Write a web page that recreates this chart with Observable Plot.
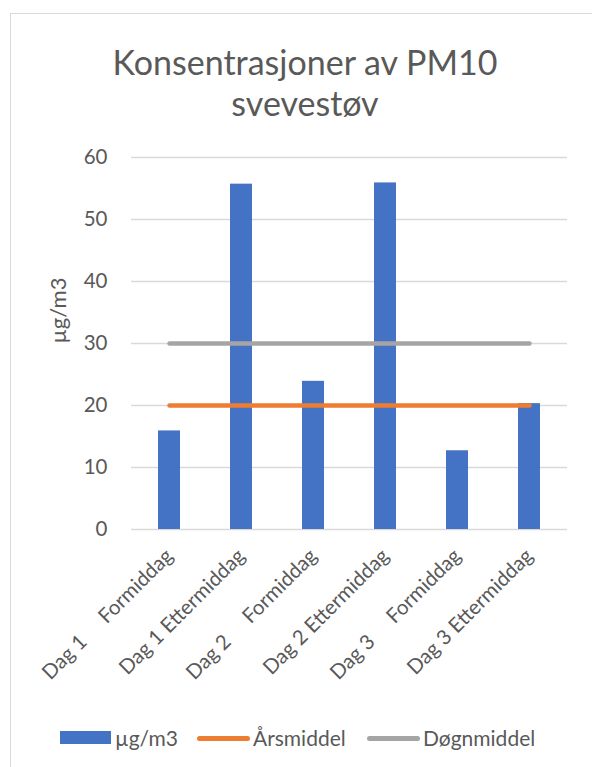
<!DOCTYPE html>
<html><head><meta charset="utf-8">
<script src="https://cdn.jsdelivr.net/npm/d3@7"></script>
<script src="https://cdn.jsdelivr.net/npm/@observablehq/plot@0.6"></script>
<style>
body{margin:0;background:#fff;font-family:Lato,sans-serif;color:#595959}
#wrap{position:relative;width:592px;height:767px;overflow:hidden;background:#fff}
#frame{position:absolute;left:10px;top:13px;width:600px;height:800px;border:1px solid #d9d9d9;box-sizing:border-box}
#title{position:absolute;left:0;width:610px;top:41px;text-align:center;font-size:34px;line-height:41px}
#chart{position:absolute;left:0;top:130px}
.lg{position:absolute;font-size:21px;line-height:21px;top:727px;white-space:nowrap}
.sw{position:absolute}
</style></head>
<body>
<div id="wrap">
<div id="frame"></div>
<div id="title">Konsentrasjoner av PM10<br>svevestøv</div>
<div id="chart"></div>
<div class="sw" style="left:60px;top:731px;width:51px;height:13px;background:#4472C4"></div>
<div class="lg" style="left:115px">µg/m3</div>
<div class="sw" style="left:197px;top:736px;width:53px;height:4.5px;border-radius:3px;background:#ED7D31"></div>
<div class="lg" style="left:253px">Årsmiddel</div>
<div class="sw" style="left:367px;top:736px;width:53px;height:4.5px;border-radius:3px;background:#A5A5A5"></div>
<div class="lg" style="left:423px">Døgnmiddel</div>
</div>
<script>
const S = "\u00A0\u00A0\u00A0\u00A0\u00A0";
const categories = ["Dag 1" + S + "Formiddag", "Dag 1 Ettermiddag", "Dag 2" + S + "Formiddag", "Dag 2 Ettermiddag", "Dag 3" + S + "Formiddag", "Dag 3 Ettermiddag"];
const pm10 = [15.9, 55.7, 23.9, 55.9, 12.7, 20.3];
const aarsmiddel = [20, 20, 20, 20, 20, 20];
const dognmiddel = [30, 30, 30, 30, 30, 30];
const yTicks = [0, 10, 20, 30, 40, 50, 60];

const bars = categories.map((c, i) => ({c, v: pm10[i]}));
const aars = categories.map((c, i) => ({c, v: aarsmiddel[i]}));
const dogn = categories.map((c, i) => ({c, v: dognmiddel[i]}));

const chart = Plot.plot({
  width: 592,
  height: 570,
  marginLeft: 131,
  marginRight: 25,
  marginTop: 27,
  marginBottom: 171,
  style: {fontFamily: "Lato, sans-serif", fontSize: "20.5px", color: "#595959", background: "transparent"},
  x: {domain: categories, paddingInner: 0.69, paddingOuter: 0.345, tickRotate: -45, tickSize: 0, tickPadding: 23, label: null},
  y: {domain: [0, 60], ticks: yTicks, tickSize: 0, tickPadding: 24, label: null},
  marks: [
    Plot.ruleY(yTicks, {stroke: "#d9d9d9", strokeWidth: 1.3}),
    Plot.barY(bars, {x: "c", y: "v", fill: "#4472C4"}),
    Plot.line(dogn, {x: "c", y: "v", stroke: "#A5A5A5", strokeWidth: 4.5, strokeLinecap: "round"}),
    Plot.line(aars, {x: "c", y: "v", stroke: "#ED7D31", strokeWidth: 4.5, strokeLinecap: "round"}),
    Plot.text(["µg/m3"], {frameAnchor: "left", dx: -73, rotate: -90, text: d => d, fill: "#595959", fontSize: 22})
  ]
});
document.getElementById("chart").appendChild(chart);
</script>
</body></html>
